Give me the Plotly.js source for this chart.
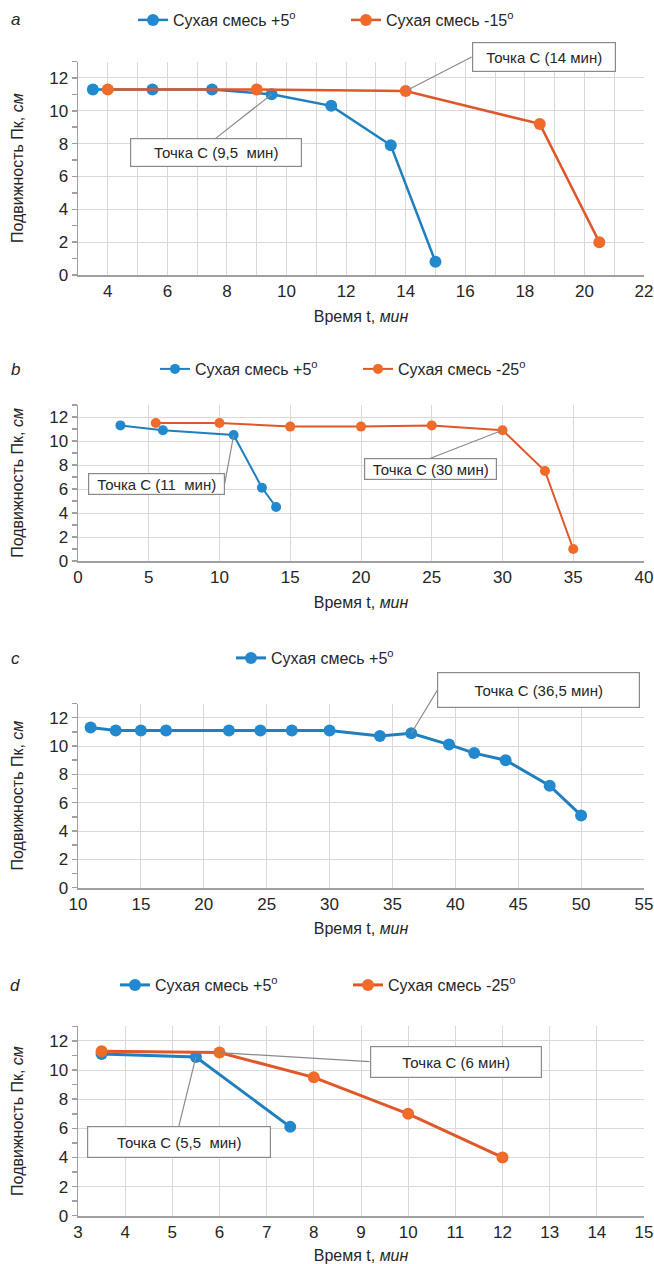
<!DOCTYPE html>
<html>
<head>
<meta charset="utf-8">
<script src="https://cdn.plot.ly/plotly-3.0.1.min.js"></script>
<style>html,body{margin:0;padding:0;background:#fff}#chart{width:654px;height:1264px}</style>
</head>
<body>
<div id="chart"></div>
<script>
// ---- data ----
// panel a
const aTime5  = [3.5, 5.5, 7.5, 9.5, 11.5, 13.5, 15];
const aMob5   = [11.3, 11.3, 11.3, 11.0, 10.3, 7.9, 0.8];
const aTime15 = [4, 9, 14, 18.5, 20.5];
const aMob15  = [11.3, 11.3, 11.2, 9.2, 2.0];
// panel b
const bTime5  = [3, 6, 11, 13, 14];
const bMob5   = [11.3, 10.9, 10.5, 6.1, 4.5];
const bTime25 = [5.5, 10, 15, 20, 25, 30, 33, 35];
const bMob25  = [11.5, 11.5, 11.2, 11.2, 11.3, 10.9, 7.5, 1.0];
// panel c
const cTime5  = [11, 13, 15, 17, 22, 24.5, 27, 30, 34, 36.5, 39.5, 41.5, 44, 47.5, 50];
const cMob5   = [11.3, 11.1, 11.1, 11.1, 11.1, 11.1, 11.1, 11.1, 10.7, 10.9, 10.1, 9.5, 9.0, 7.2, 5.1];
// panel d
const dTime5  = [3.5, 5.5, 7.5];
const dMob5   = [11.1, 10.9, 6.1];
const dTime25 = [3.5, 6, 8, 10, 12];
const dMob25  = [11.3, 11.2, 9.5, 7.0, 4.0];

const name5  = 'Сухая смесь +5<sup>o</sup>';
const name15 = 'Сухая смесь -15<sup>o</sup>';
const name25 = 'Сухая смесь -25<sup>o</sup>';
const xTitle = 'Время t, <i>мин</i>';
const yTitle = 'Подвижность Пк, <i>см</i>';
const panelLabels = ['a', 'b', 'c', 'd'];
const callouts = {
  a1: 'Точка С (14 мин)', a2: 'Точка С (9,5\u00A0 мин)',
  b1: 'Точка С (11\u00A0 мин)', b2: 'Точка С (30 мин)',
  c1: 'Точка С (36,5 мин)',
  d1: 'Точка С (6 мин)', d2: 'Точка С (5,5\u00A0 мин)'
};

// ---- styling ----
const W = 654, H = 1264;
const FONT = 'Liberation Sans, Arial, Helvetica, sans-serif';
const BLUE = '#2389cf', BLUE_LINE = '#1f7fbf';
const ORANGE = '#f06a2a', ORANGE_LINE = '#e0572a';
const GRID = '#d9d9d9', AXIS = '#a0a0a0', TXT = '#262626';

function ydom(top, bottom) { return [1 - bottom / H, 1 - top / H]; }
const xdom = [78 / W, 644 / W];

function xax(anchor, range, dtick, minorGrid) {
  const o = {
    domain: xdom, anchor: anchor, range: range, dtick: dtick, tick0: 0,
    showgrid: true, gridcolor: GRID, gridwidth: 1,
    showline: true, linecolor: AXIS, linewidth: 2, zeroline: false,
    ticks: '', tickfont: {family: FONT, size: 17, color: TXT},
    fixedrange: true, automargin: false,
    title: {text: xTitle, font: {family: FONT, size: 16, color: TXT}, standoff: 10}
  };
  if (minorGrid) o.minor = {dtick: minorGrid, showgrid: true, gridcolor: GRID, gridwidth: 1, ticks: ''};
  return o;
}
function yax(anchor, dom) {
  return {
    domain: dom, anchor: anchor, range: [0, 13], dtick: 2, tick0: 0,
    showgrid: true, gridcolor: GRID, gridwidth: 1,
    showline: true, linecolor: AXIS, linewidth: 1.5, zeroline: false,
    ticks: 'outside', ticklen: 5, tickcolor: AXIS, tickwidth: 1.5,
    minor: {dtick: 1, ticks: 'outside', ticklen: 5, tickcolor: AXIS, tickwidth: 1.5, showgrid: false},
    tickfont: {family: FONT, size: 17, color: TXT},
    fixedrange: true, automargin: false,
    title: {text: yTitle, font: {family: FONT, size: 16, color: TXT}, standoff: 21}
  };
}

function tr(x, y, name, color, lineColor, xa, ya, leg, msize, lw) {
  return {
    type: 'scatter', mode: 'lines+markers', x: x, y: y, name: name,
    xaxis: xa, yaxis: ya, legend: leg,
    line: {color: lineColor, width: lw},
    marker: {color: color, size: msize, line: {width: 0}},
    hoverinfo: 'x+y'
  };
}

const data = [
  tr(aTime5, aMob5, name5, BLUE, BLUE_LINE, 'x', 'y', 'legend', 12, 2.5),
  tr(aTime15, aMob15, name15, ORANGE, ORANGE_LINE, 'x', 'y', 'legend', 12, 2.5),
  tr(bTime5, bMob5, name5, BLUE, BLUE_LINE, 'x2', 'y2', 'legend2', 10, 2),
  tr(bTime25, bMob25, name25, ORANGE, ORANGE_LINE, 'x2', 'y2', 'legend2', 10, 2),
  tr(cTime5, cMob5, name5, BLUE, BLUE_LINE, 'x3', 'y3', 'legend3', 12, 3),
  tr(dTime5, dMob5, name5, BLUE, BLUE_LINE, 'x4', 'y4', 'legend4', 12, 3),
  tr(dTime25, dMob25, name25, ORANGE, ORANGE_LINE, 'x4', 'y4', 'legend4', 12, 3)
];

function legend(xpx, ypx, entry) {
  return {
    orientation: 'h', x: xpx / W, y: 1 - ypx / H, xanchor: 'left', yanchor: 'middle',
    font: {family: FONT, size: 16, color: TXT}, bgcolor: 'rgba(0,0,0,0)',
    entrywidth: entry, entrywidthmode: 'pixels', itemclick: false, itemdoubleclick: false
  };
}

function callout(xa, ya, x, y, text, ax, ay, w, h, xanchor, yanchor) {
  return {
    xref: xa, yref: ya, x: x, y: y, text: text, showarrow: true, arrowhead: 0,
    arrowwidth: 1.2, arrowcolor: '#8a8a8a', ax: ax, ay: ay,
    xanchor: xanchor, yanchor: yanchor, width: w, height: h,
    bgcolor: '#ffffff', bordercolor: '#8a8a8a', borderwidth: 1.2, borderpad: 1,
    font: {family: FONT, size: 15, color: TXT}, standoff: 0, startstandoff: 0
  };
}
function plabel(text, ypx) {
  return {xref: 'paper', yref: 'paper', x: 15 / W, y: 1 - ypx / H, xanchor: 'center', yanchor: 'middle',
    text: '<i>' + text + '</i>', showarrow: false, font: {family: FONT, size: 17, color: TXT}};
}

const layout = {
  width: W, height: H, margin: {l: 0, r: 0, t: 0, b: 0},
  paper_bgcolor: '#ffffff', plot_bgcolor: '#ffffff', showlegend: true,
  font: {family: FONT, color: TXT},
  xaxis: xax('y', [3, 22], 2, 1),
  yaxis: yax('x', ydom(61.5, 275)),
  xaxis2: xax('y2', [0, 40], 5, null),
  yaxis2: yax('x2', ydom(405, 561)),
  xaxis3: xax('y3', [10, 55], 5, null),
  yaxis3: yax('x3', ydom(703.5, 887.7)),
  xaxis4: xax('y4', [3, 15], 1, null),
  yaxis4: yax('x4', ydom(1026.4, 1215.7)),
  legend: legend(133, 20, 168),
  legend2: legend(155, 369, 158),
  legend3: legend(231, 658, 160),
  legend4: legend(115, 985, 188),
  annotations: [
    plabel(panelLabels[0], 20), plabel(panelLabels[1], 369), plabel(panelLabels[2], 658), plabel(panelLabels[3], 985),
    callout('x', 'y', aTime15[2], aMob15[2], callouts.a1, 66, -34, 140, 26, 'left', 'middle'),
    callout('x', 'y', aTime5[3], aMob5[3], callouts.a2, -56, 44, 168, 25, 'center', 'top'),
    callout('x2', 'y2', bTime5[2], bMob5[2], callouts.b1, -9, 49, 133, 18, 'right', 'middle'),
    callout('x2', 'y2', bTime25[5], bMob25[5], callouts.b2, -72, 28, 129, 18, 'center', 'top'),
    callout('x3', 'y3', cTime5[9], cMob5[9], callouts.c1, 26, -43, 199, 32, 'left', 'middle'),
    callout('x4', 'y4', dTime25[1], dMob25[1], callouts.d1, 150, 9, 168, 28, 'left', 'middle'),
    callout('x4', 'y4', dTime5[1], dMob5[1], callouts.d2, -17, 69, 180, 28, 'center', 'top')
  ]
};

Plotly.newPlot('chart', data, layout, {staticPlot: true, displayModeBar: false});
</script>
</body>
</html>
